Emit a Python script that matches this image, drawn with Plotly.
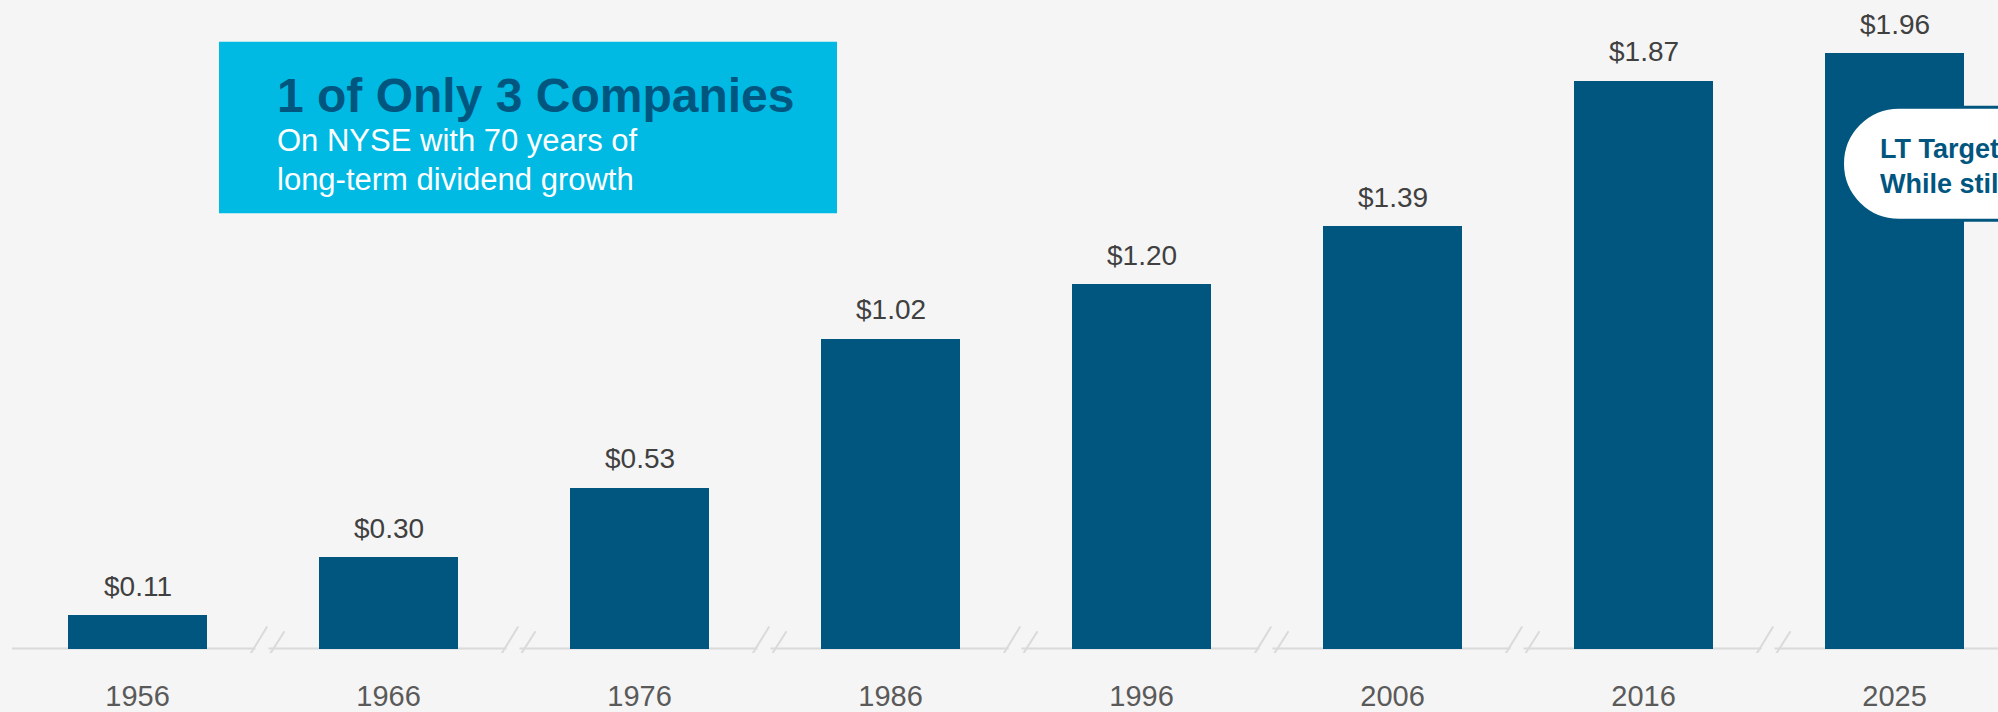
import plotly.graph_objects as go

# ---- data -------------------------------------------------------------
years = ["1956", "1966", "1976", "1986", "1996", "2006", "2016", "2025"]
dividends = [0.11, 0.30, 0.53, 1.02, 1.20, 1.39, 1.87, 1.96]

title_text = "1 of Only 3 Companies"
subtitle_lines = ["On NYSE with 70 years of", "long-term dividend growth"]
callout_lines = ["LT Target", "While still"]

# ---- style ------------------------------------------------------------
BG = "#f5f5f5"
BAR = "#01567f"
CYAN = "#00bae3"
AXIS_GREY = "#dadada"
VALUE_GREY = "#404040"
YEAR_GREY = "#5a5a5a"
FONT = "Liberation Sans, Arial, sans-serif"

W, H = 1998, 712
M_L, M_R, M_T, M_B = 12, 0, 0, 54
PLOT_W = W - M_L - M_R
PLOT_H = H - M_T - M_B
BASE_PX = 653.5            # pixel row of the zero line
PX_PER_UNIT = 306.0        # vertical pixels per dollar
X_MIN = -0.5
PX_PER_CAT = 251.0
X_MAX = X_MIN + PLOT_W / PX_PER_CAT
Y_MIN = -(M_T + PLOT_H - BASE_PX) / PX_PER_UNIT
Y_MAX = (BASE_PX - M_T) / PX_PER_UNIT


def px_x(x):
    return (x - M_L) / PLOT_W


def px_y(y):
    return (M_T + PLOT_H - y) / PLOT_H


def y_data(ypix):
    return (BASE_PX - ypix) / PX_PER_UNIT


idx = list(range(len(years)))

fig = go.Figure()
fig.add_trace(go.Bar(
    x=idx, y=dividends, width=0.554,
    marker=dict(color=BAR, line=dict(width=0)),
    hoverinfo="skip",
))

annotations = []
shapes = []

# value labels above each bar
for i, v in zip(idx, dividends):
    annotations.append(dict(
        x=i, y=v, xref="x", yref="y", text=f"${v:.2f}",
        showarrow=False, xanchor="center", yanchor="bottom", yshift=11.5,
        font=dict(family=FONT, size=28, color=VALUE_GREY),
    ))

# broken baseline with "//" marks between the bars
gap_l, gap_r = 7.5 / PX_PER_CAT, 5.5 / PX_PER_CAT
starts = [X_MIN] + [i + 0.5 + gap_r for i in idx[:-1]]
ends = [i + 0.5 - gap_l for i in idx[:-1]] + [X_MAX + 0.5]
for a, b in zip(starts, ends):
    shapes.append(dict(type="line", xref="x", yref="y", x0=a, x1=b, y0=0, y1=0,
                       line=dict(color=AXIS_GREY, width=2), layer="below"))
for i in idx[:-1]:
    for (x0, y0, x1, y1) in [(-19.2, -16.3, 4.2, 22.0), (-2.8, -21.0, 21.5, 17.3)]:
        shapes.append(dict(
            type="line", xref="x", yref="y",
            xsizemode="pixel", ysizemode="pixel",
            xanchor=i + 0.5, yanchor=0,
            x0=x0, y0=y0, x1=x1, y1=y1,
            line=dict(color=AXIS_GREY, width=2), layer="above",
        ))

# headline box
shapes.append(dict(type="rect", xref="paper", yref="paper",
                   x0=px_x(219), x1=px_x(837), y0=px_y(215), y1=px_y(42),
                   fillcolor=CYAN, line=dict(width=0), layer="above"))


def text_at(text, x_left, baseline, size, color, bold=False):
    descent = 0.212 * size
    annotations.append(dict(
        x=px_x(x_left - 2), y=px_y(baseline + descent + 1),
        xref="paper", yref="paper", text=f"<b>{text}</b>" if bold else text,
        showarrow=False, xanchor="left", yanchor="bottom",
        font=dict(family=FONT, size=size, color=color),
    ))


text_at(title_text, 277, 114, 48, BAR, bold=True)
text_at(subtitle_lines[0], 277, 154, 31, "#ffffff")
text_at(subtitle_lines[1], 277, 193, 31, "#ffffff")

# rounded call-out on the right edge
r = 56.5
k = 0.5523 * r
left = -52.0
cx = left + r
pill = (f"M 400,{r} L {cx},{r} "
        f"C {cx - k},{r} {left},{k} {left},0 "
        f"C {left},{-k} {cx - k},{-r} {cx},{-r} "
        f"L 400,{-r} Z")
shapes.append(dict(type="path", xref="x", yref="y",
                   xsizemode="pixel", ysizemode="pixel",
                   xanchor=idx[-1], yanchor=y_data(165), path=pill,
                   fillcolor="#ffffff", line=dict(color=BAR, width=3), layer="above"))
text_at(callout_lines[0], 1880, 161, 27, BAR, bold=True)
text_at(callout_lines[1], 1880, 196, 27, BAR, bold=True)

fig.update_layout(
    width=W, height=H,
    margin=dict(l=M_L, r=M_R, t=M_T, b=M_B, pad=0),
    paper_bgcolor=BG, plot_bgcolor=BG,
    showlegend=False,
    bargap=0,
    xaxis=dict(
        range=[X_MIN, X_MAX], tickmode="array", tickvals=idx, ticktext=years,
        showgrid=False, zeroline=False, showline=False, ticks="",
        tickfont=dict(family=FONT, size=29, color=YEAR_GREY),
        ticklabelstandoff=23, fixedrange=True,
    ),
    yaxis=dict(range=[Y_MIN, Y_MAX], visible=False, fixedrange=True),
    shapes=shapes,
    annotations=annotations,
)

fig.write_html("out.html", config={"displayModeBar": False})
